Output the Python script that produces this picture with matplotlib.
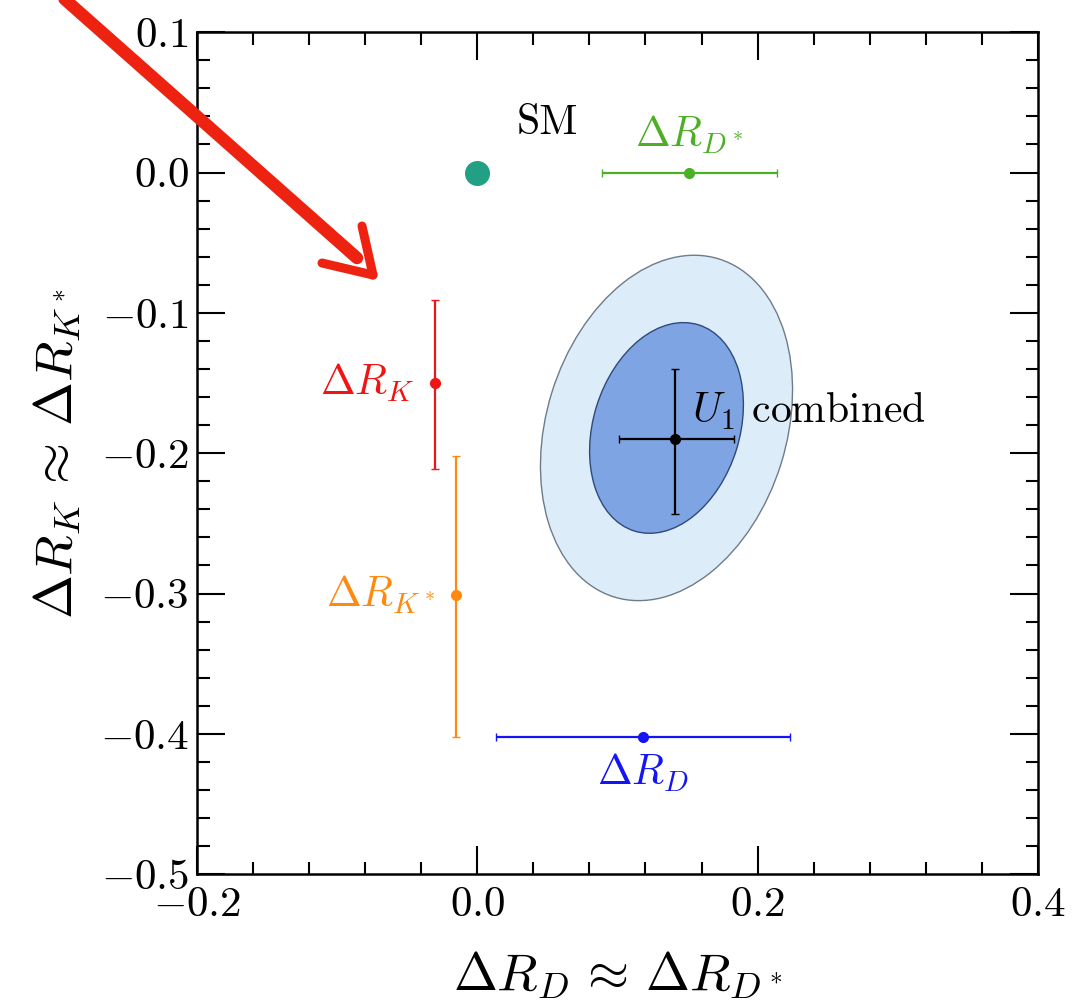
import matplotlib
matplotlib.use('Agg')
import matplotlib.pyplot as plt
import numpy as np
from matplotlib.patches import Ellipse
from matplotlib.lines import Line2D
from matplotlib.ticker import MultipleLocator

plt.rcParams['font.family'] = 'serif'
plt.rcParams['font.serif'] = ['cmr10']
plt.rcParams['mathtext.fontset'] = 'cm'
plt.rcParams['axes.formatter.use_mathtext'] = True

# individual measurements: (x, y, xerr, yerr)
sm = (0.0, 0.0)
rdstar_x, rdstar_y, rdstar_xerr = 0.151, 0.0, [[0.062], [0.063]]
rk_x, rk_y, rk_yerr = -0.030, -0.150, [[0.061], [0.059]]
rkstar_x, rkstar_y, rkstar_yerr = -0.015, -0.301, [[0.101], [0.099]]
rd_x, rd_y, rd_xerr = 0.118, -0.402, [[0.105], [0.105]]
u1_x, u1_y = 0.141, -0.190
u1_xerr = [[0.040], [0.042]]
u1_yerr = [[0.053], [0.050]]

# combined fit contours (gaussian approx.)
fit_center = (0.135, -0.182)
fit_sigma = (0.0362, 0.0495)
fit_rho = 0.22
fit_dchi2 = [6.18, 2.30]

fig = plt.figure(figsize=(10.72, 10.06), dpi=100)
ax = fig.add_axes([0.184, 0.131, 0.784, 0.837])

cov = np.array([[fit_sigma[0]**2, fit_rho * fit_sigma[0] * fit_sigma[1]],
                [fit_rho * fit_sigma[0] * fit_sigma[1], fit_sigma[1]**2]])
vals, vecs = np.linalg.eigh(cov)
angle = np.degrees(np.arctan2(vecs[1, 1], vecs[0, 1]))
styles = [('#dcecf9', '#6e7c8a'), ('#7ea4e4', '#2f4a7a')]
for k, (fc, ec) in zip(fit_dchi2, styles):
    ell = Ellipse(fit_center, 2 * np.sqrt(k * vals[1]), 2 * np.sqrt(k * vals[0]),
                  angle=angle, facecolor=fc, edgecolor=ec, lw=1.0, zorder=1)
    ax.add_patch(ell)

ax.plot(*sm, 'o', color='#21a083', ms=17, zorder=3)
ax.errorbar(rdstar_x, rdstar_y, xerr=rdstar_xerr, fmt='o', color='#4caf25',
            ms=7, lw=1.6, capsize=3, zorder=3)
ax.errorbar(rk_x, rk_y, yerr=rk_yerr, fmt='o', color='#f01414',
            ms=7, lw=1.6, capsize=3, zorder=3)
ax.errorbar(rkstar_x, rkstar_y, yerr=rkstar_yerr, fmt='o', color='#ff8a12',
            ms=7, lw=1.6, capsize=3, zorder=3)
ax.errorbar(rd_x, rd_y, xerr=rd_xerr, fmt='o', color='#1414f5',
            ms=7, lw=1.6, capsize=3, zorder=3)
ax.errorbar(u1_x, u1_y, xerr=u1_xerr, yerr=u1_yerr, fmt='o', color='black',
            ms=7, lw=1.6, capsize=3, zorder=4)

fs = 30
ax.text(0.05, 0.035, 'SM', fontsize=fs, ha='center', va='center')
ax.text(rdstar_x, 0.027, r'$\Delta R_{D^*}$', color='#4caf25', fontsize=fs,
        ha='center', va='center')
ax.text(-0.045, rk_y, r'$\Delta R_K$', color='#f01414', fontsize=fs,
        ha='right', va='center')
ax.text(-0.030, rkstar_y, r'$\Delta R_{K^*}$', color='#ff8a12', fontsize=fs,
        ha='right', va='center')
ax.text(rd_x, -0.428, r'$\Delta R_D$', color='#1414f5', fontsize=fs,
        ha='center', va='center')
ax.text(0.153, -0.17, r'$U_1$ combined', fontsize=fs, ha='left', va='center')

ax.set_xlim(-0.2, 0.4)
ax.set_ylim(-0.5, 0.1)
ax.xaxis.set_major_locator(MultipleLocator(0.2))
ax.xaxis.set_minor_locator(MultipleLocator(0.04))
ax.yaxis.set_major_locator(MultipleLocator(0.1))
ax.yaxis.set_minor_locator(MultipleLocator(0.02))
ax.tick_params(which='both', direction='in', top=True, right=True, width=1.5,
               labelsize=31)
ax.tick_params(which='major', length=20, pad=6)
ax.tick_params(axis='x', which='major', pad=9)
ax.tick_params(which='minor', length=9)
for sp in ax.spines.values():
    sp.set_linewidth(1.8)

ax.set_xlabel(r'$\Delta R_D \,\approx\, \Delta R_{D^*}$', fontsize=38, labelpad=18)
ax.set_ylabel(r'$\Delta R_K \,\approx\, \Delta R_{K^*}$', fontsize=38, labelpad=12)

# hand-drawn red arrow on top of the figure
W, H = 1072, 1006
def px(x, y):
    return x / W, 1 - y / H

red = '#ee2211'
shaft = [px(60, -5), px(357, 258)]
fig.add_artist(Line2D([shaft[0][0], shaft[1][0]], [shaft[0][1], shaft[1][1]],
                      transform=fig.transFigure, color=red, lw=9,
                      solid_capstyle='round', zorder=10))
for start in [(362, 226), (322, 263)]:
    a, b = px(*start), px(373, 275)
    fig.add_artist(Line2D([a[0], b[0]], [a[1], b[1]], transform=fig.transFigure,
                          color=red, lw=6.5, solid_capstyle='round', zorder=10))

fig.savefig('out.png', dpi=100)
